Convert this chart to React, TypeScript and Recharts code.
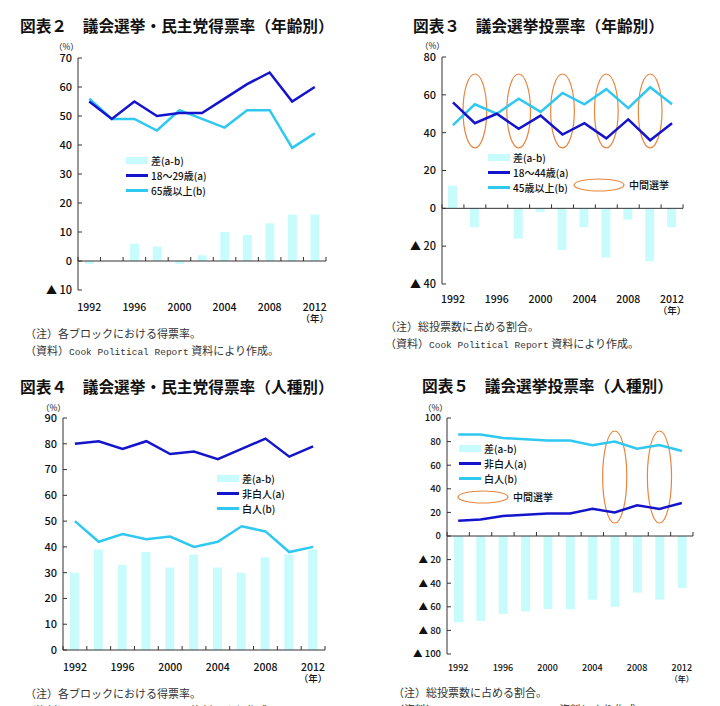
// 議会選挙の得票率・投票率 — 4 panels (図表2〜5), recharts ComposedChart x4.
import {
  ComposedChart, Bar, Line, XAxis, YAxis,
  ReferenceLine, ReferenceArea, Legend,
} from 'recharts';

const JP = '"Noto Sans CJK JP", "Noto Sans", sans-serif';
const DARK = '#1414cc';
const LIGHT = '#2ec8f0';
const BAR = '#c8fcfc';
const RING = '#e8853f';
const AXIS = '#333';

const years = [1992, 1994, 1996, 1998, 2000, 2002, 2004, 2006, 2008, 2010, 2012];
const labelYears = [1992, 1996, 2000, 2004, 2008, 2012];

// 図表2 民主党得票率（年齢別）
const fig2Young = [55, 49, 55, 50, 51, 51, 56, 61, 65, 55, 60];
const fig2Old = [56, 49, 49, 45, 52, 49, 46, 52, 52, 39, 44];
const fig2Gap = [-1, 0, 6, 5, -1, 2, 10, 9, 13, 16, 16];
const fig2Ticks = [-10, 0, 10, 20, 30, 40, 50, 60, 70];

// 図表3 投票率（年齢別）
const fig3Young = [56, 45, 50, 42, 49, 39, 45, 37, 47, 36, 45];
const fig3Old = [44, 55, 50, 58, 51, 61, 55, 63, 53, 64, 55];
const fig3Gap = [12, -10, 0, -16, -2, -22, -10, -26, -6, -28, -10];
const fig3Ticks = [-40, -20, 0, 20, 40, 60, 80];
const fig3Midterms = [1994, 1998, 2002, 2006, 2010];
const fig3Ring = [32, 71];

// 図表4 民主党得票率（人種別）
const fig4NonWhite = [80, 81, 78, 81, 76, 77, 74, 78, 82, 75, 79];
const fig4White = [50, 42, 45, 43, 44, 40, 42, 48, 46, 38, 40];
const fig4Gap = [30, 39, 33, 38, 32, 37, 32, 30, 36, 37, 39];
const fig4Ticks = [0, 10, 20, 30, 40, 50, 60, 70, 80, 90];

// 図表5 投票率（人種別）
const fig5NonWhite = [13, 14, 17, 18, 19, 19, 23, 20, 26, 23, 28];
const fig5White = [86, 86, 83, 82, 81, 81, 77, 80, 74, 77, 72];
const fig5Gap = [-73, -72, -66, -64, -62, -62, -54, -60, -48, -54, -44];
const fig5Ticks = [-100, -80, -60, -40, -20, 0, 20, 40, 60, 80, 100];
const fig5Midterms = [2006, 2010];
const fig5Ring = [11, 89];

const rows = (a: number[], b: number[], gap: number[]) =>
  years.map((year, i) => ({ year, a: a[i], b: b[i], gap: gap[i] }));

const fmtY = (v: number) => (v < 0 ? `▲ ${-v}` : `${v}`);

// x軸はゼロ線上に描く（区切り目盛り付き）
const zeroAxis = (count: number) => (p: any) => {
  const step = (p.x2 - p.x1) / count;
  return (
    <g>
      <line x1={p.x1} x2={p.x2} y1={p.y1} y2={p.y1} stroke={AXIS} strokeWidth={1} />
      {Array.from({ length: count + 1 }, (_, i) => (
        <line key={i} x1={p.x1 + i * step} x2={p.x1 + i * step} y1={p.y1} y2={p.y1 - 4} stroke={AXIS} />
      ))}
    </g>
  );
};

const ringShape = (p: any) => (
  <ellipse
    cx={p.x + p.width / 2} cy={p.y + p.height / 2}
    rx={p.width * 0.54} ry={p.height / 2}
    fill="none" stroke={RING} strokeWidth={1.2}
  />
);

function YearTick({ x, y, payload, fontSize, dy }: any) {
  if (!labelYears.includes(payload.value)) return <g />;
  const last = payload.value === years[years.length - 1];
  return (
    <g fontFamily={JP} fill="#111" fontWeight={500}>
      <text x={x} y={y + dy} textAnchor="middle" fontSize={fontSize}>{payload.value}</text>
      {last && <text x={x} y={y + dy + 11} textAnchor="middle" fontSize={fontSize - 1}>（年）</text>}
    </g>
  );
}

function KeyBox({ a, b, ring }: { a: string; b: string; ring?: 'side' | 'below' }) {
  const items = [
    { label: '差(a-b)', color: BAR, h: 7 },
    { label: a, color: DARK, h: 3 },
    { label: b, color: LIGHT, h: 3 },
  ];
  return (
    <div style={{ position: 'relative', fontFamily: JP, fontSize: 10, color: '#111', fontWeight: 500 }}>
      {items.map((it, i) => (
        <div key={i} style={{ display: 'flex', alignItems: 'center', height: 15 }}>
          <span style={{ display: 'inline-block', width: 22, height: it.h, background: it.color }} />
          <span style={{ marginLeft: 3, whiteSpace: 'nowrap' }}>{it.label}</span>
        </div>
      ))}
      {ring && (
        <div style={{
          position: 'absolute', display: 'flex', alignItems: 'center', whiteSpace: 'nowrap',
          left: ring === 'side' ? 85 : -2, top: ring === 'side' ? 27 : 48,
        }}>
          <svg width={52} height={14}>
            <ellipse cx={26} cy={7} rx={25} ry={6} fill="none" stroke={RING} strokeWidth={1.2} />
          </svg>
          <span style={{ marginLeft: 4 }}>中間選挙</span>
        </div>
      )}
    </div>
  );
}

interface PanelProps {
  left: number; top: number; height: number;
  margin: { top: number; right: number; bottom: number; left: number };
  data: ReturnType<typeof rows>;
  ticks: number[];
  yFont: number; xFont: number; xDy: number;
  legendAt: [number, number];
  legend: { a: string; b: string; ring?: 'side' | 'below' };
  midterms?: number[]; ring?: number[];
}

function Panel(p: PanelProps) {
  return (
    <div style={{ position: 'absolute', left: p.left, top: p.top }}>
      <ComposedChart width={360} height={p.height} data={p.data} margin={p.margin} barSize={9}>
        <XAxis
          dataKey="year" interval={0} height={30}
          axisLine={false} tickLine={false} tickSize={0} tickMargin={0}
          tick={<YearTick fontSize={p.xFont} dy={p.xDy} />}
        />
        <YAxis
          width={50} domain={[p.ticks[0], p.ticks[p.ticks.length - 1]]} ticks={p.ticks}
          interval={0} tickFormatter={fmtY}
          axisLine={{ stroke: AXIS }} tickLine={{ stroke: AXIS }} tickSize={-4} tickMargin={10}
          tick={{ fontSize: p.yFont, fill: '#111', fontFamily: JP, fontWeight: 500 }}
        />
        <Bar dataKey="gap" fill={BAR} isAnimationActive={false} />
        <ReferenceLine y={0} shape={zeroAxis(p.data.length)} />
        {p.midterms && p.ring && p.midterms.map((m) => (
          <ReferenceArea key={m} x1={m} x2={m} y1={p.ring![0]} y2={p.ring![1]} shape={ringShape} />
        ))}
        <Line dataKey="b" type="linear" stroke={LIGHT} strokeWidth={2.5} dot={false} isAnimationActive={false} />
        <Line dataKey="a" type="linear" stroke={DARK} strokeWidth={2.5} dot={false} isAnimationActive={false} />
        <Legend
          layout="vertical" align="center" verticalAlign="middle"
          wrapperStyle={{ left: p.legendAt[0] - p.left, top: p.legendAt[1] - p.top, width: 200 }}
          content={() => <KeyBox {...p.legend} />}
        />
      </ComposedChart>
    </div>
  );
}

const titleStyle = {
  position: 'absolute' as const, fontFamily: JP, fontWeight: 700, fontSize: 15.7,
  lineHeight: '20px', whiteSpace: 'nowrap' as const, color: '#111',
};
const pctStyle = {
  position: 'absolute' as const, fontFamily: JP, fontSize: 8.5, lineHeight: '10px', color: '#111',
};
const noteStyle = {
  position: 'absolute' as const, fontFamily: JP, fontSize: 11, lineHeight: '17px',
  color: '#333', whiteSpace: 'nowrap' as const,
};
const mono = { fontFamily: '"Liberation Mono", monospace', fontSize: 9.5 };

function Notes({ x, y, first }: { x: number; y: number; first: string }) {
  return (
    <div style={{ ...noteStyle, left: x, top: y }}>
      <div>{first}</div>
      <div>（資料）<span style={mono}>Cook Political Report</span> 資料により作成。</div>
    </div>
  );
}

export default function App() {
  return (
    <div style={{ position: 'absolute', left: 0, top: 0, width: 720, height: 706, overflow: 'hidden', background: '#fff' }}>
      <div style={{ ...titleStyle, left: 20, top: 16 }}>図表２　議会選挙・民主党得票率（年齢別）</div>
      <div style={{ ...titleStyle, left: 413, top: 16 }}>図表３　議会選挙投票率（年齢別）</div>
      <div style={{ ...titleStyle, left: 20, top: 377 }}>図表４　議会選挙・民主党得票率（人種別）</div>
      <div style={{ ...titleStyle, left: 422, top: 376 }}>図表５　議会選挙投票率（人種別）</div>

      <div style={{ ...pctStyle, left: 54, top: 41 }}>（%）</div>
      <div style={{ ...pctStyle, left: 420, top: 40 }}>（%）</div>
      <div style={{ ...pctStyle, left: 41, top: 402 }}>（%）</div>
      <div style={{ ...pctStyle, left: 423, top: 402 }}>（%）</div>

      <Panel
        left={0} top={0} height={334}
        margin={{ top: 58, right: 34, bottom: 14, left: 28 }}
        data={rows(fig2Young, fig2Old, fig2Gap)} ticks={fig2Ticks}
        yFont={11} xFont={10.5} xDy={21}
        legendAt={[126, 153]} legend={{ a: '18～29歳(a)', b: '65歳以上(b)' }}
      />
      <Panel
        left={360} top={0} height={328}
        margin={{ top: 57, right: 37, bottom: 14, left: 32 }}
        data={rows(fig3Young, fig3Old, fig3Gap)} ticks={fig3Ticks}
        yFont={11} xFont={10.5} xDy={19}
        legendAt={[488, 150]} legend={{ a: '18～44歳(a)', b: '45歳以上(b)', ring: 'side' }}
        midterms={fig3Midterms} ring={fig3Ring}
      />
      <Panel
        left={0} top={370} height={324}
        margin={{ top: 48, right: 35, bottom: 14, left: 13 }}
        data={rows(fig4NonWhite, fig4White, fig4Gap)} ticks={fig4Ticks}
        yFont={11} xFont={10.5} xDy={21}
        legendAt={[217, 471]} legend={{ a: '非白人(a)', b: '白人(b)' }}
      />
      <Panel
        left={360} top={370} height={328}
        margin={{ top: 48, right: 27, bottom: 14, left: 37 }}
        data={rows(fig5NonWhite, fig5White, fig5Gap)} ticks={fig5Ticks}
        yFont={9.5} xFont={9} xDy={17}
        legendAt={[459, 441]} legend={{ a: '非白人(a)', b: '白人(b)', ring: 'below' }}
        midterms={fig5Midterms} ring={fig5Ring}
      />

      <Notes x={25} y={325} first="（注）各ブロックにおける得票率。" />
      <Notes x={385} y={318} first="（注）総投票数に占める割合。" />
      <Notes x={25} y={685} first="（注）各ブロックにおける得票率。" />
      <Notes x={393} y={684} first="（注）総投票数に占める割合。" />
    </div>
  );
}
